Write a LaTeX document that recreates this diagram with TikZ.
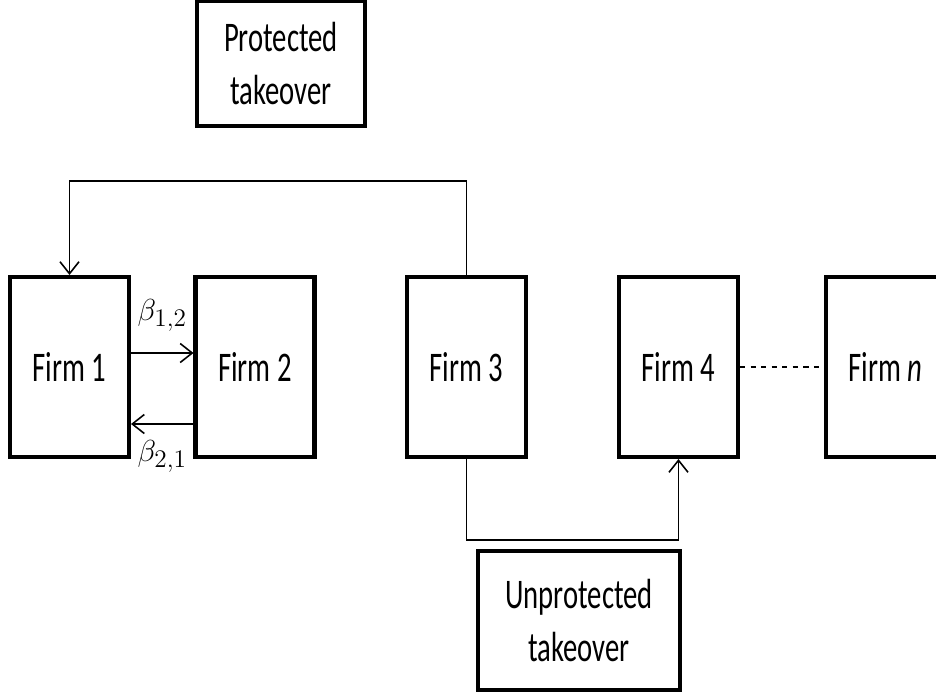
\documentclass[tikz,border=0pt]{standalone}
\usepackage{fontspec}
\setmainfont{Carlito}[FakeStretch=0.68]
\usepackage{amsmath}
\usetikzlibrary{arrows.meta, positioning}

\tikzset{
  firm/.style={draw, line width=2.3pt, minimum width=2.38cm, minimum height=3.6cm, inner sep=0pt, font=\fontsize{24}{30}\selectfont},
  takeover/.style={draw, line width=2.3pt, inner sep=0pt, align=center, font=\fontsize{24}{30.5}\selectfont},
  link/.style={line width=0.9pt},
  weight/.style={font=\fontsize{19}{22}\selectfont},
  >={Straight Barb[length=0.24cm, width=0.38cm, line width=0.9pt]}
}

\begin{document}
\begin{tikzpicture}
    \useasboundingbox (0,0) rectangle (18.72,-13.9);
    % Firms
    \node[firm] (f1) at (1.39,-7.34) {Firm 1};
    \node[firm] (f2) at (5.10,-7.34) {Firm 2};
    \node[firm] (f3) at (9.33,-7.34) {Firm 3};
    \node[firm] (f4) at (13.57,-7.34) {Firm 4};
    \node[firm] (fn) at (17.71,-7.34) {Firm \textit{n}};
    % Takeover boxes
    \node[takeover, minimum width=3.36cm, minimum height=2.5cm] (prot) at (5.62,-1.27) {Protected\\takeover};
    \node[takeover, minimum width=4.04cm, minimum height=2.78cm] (unprot) at (11.58,-12.41) {Unprotected\\takeover};
    % Cross holdings
    \draw[link, ->] ([yshift=0.28cm]f1.east) -- ([yshift=0.28cm]f2.west)
        node[midway, above=0.3cm, weight] (b12) {$\beta_{1,2}$};
    \draw[link, ->] ([yshift=-1.14cm]f2.west) -- ([yshift=-1.14cm]f1.east)
        node[midway, below=0.2cm, weight] (b21) {$\beta_{2,1}$};
    % Takeover paths
    \draw[link, ->] (f3.north) -- ++(0,1.88) -| (f1.north);
    \draw[link, ->] (f3.south) -- ++(0,-1.62) -| (f4.south);
    \draw[link, dashed] (f4.east) -- (fn.west);
\end{tikzpicture}
\end{document}
